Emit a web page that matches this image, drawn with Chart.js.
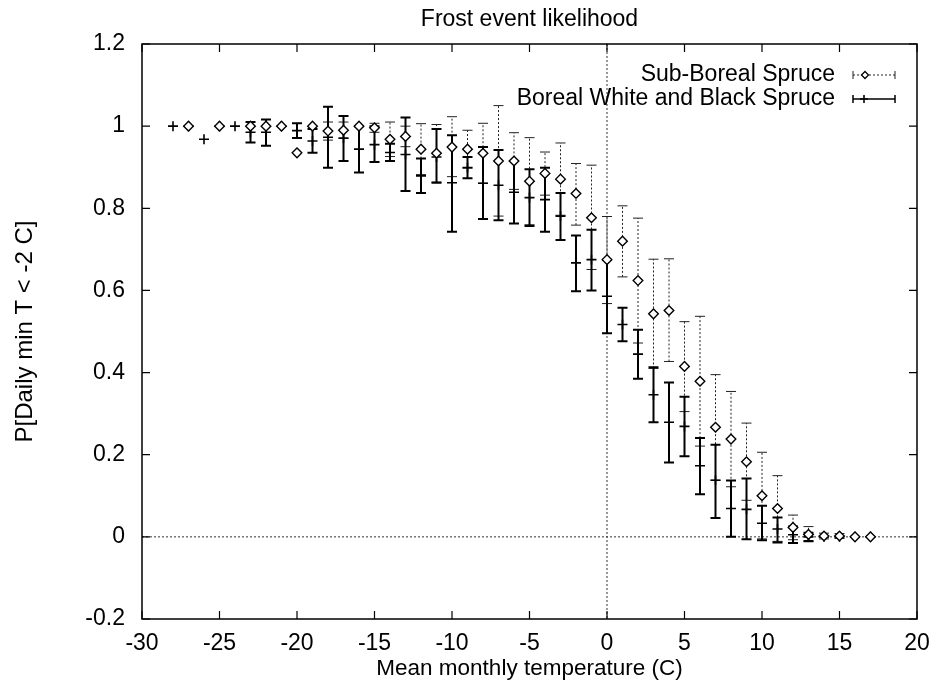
<!DOCTYPE html>
<html>
<head>
<meta charset="utf-8">
<script src="https://cdn.jsdelivr.net/npm/chart.js@4.4.0/dist/chart.umd.min.js"></script>
<style>
  html, body { margin: 0; padding: 0; background: #fff; }
</style>
</head>
<body>
<canvas id="chart" width="933" height="681"></canvas>
<script>
// Sub-Boreal Spruce: mean monthly temp (C), P and error bar ends
const sbTemp = [-27, -25, -23, -22, -21, -20, -19, -18, -17, -16, -15, -14, -13, -12, -11, -10, -9, -8, -7, -6,
  -5, -4, -3, -2, -1, 0, 1, 2, 3, 4, 5, 6, 7, 8, 9, 10, 11, 12, 13, 14, 15, 16, 17];
const sbMean = [1, 1, 1, 1, 1, 0.935, 1.0, 0.988, 0.99, 1.0, 0.996, 0.968, 0.975, 0.944, 0.934, 0.949, 0.944, 0.934, 0.915, 0.915,
  0.866, 0.885, 0.871, 0.836, 0.777, 0.675, 0.72, 0.624, 0.543, 0.551, 0.415, 0.379, 0.267, 0.238, 0.183, 0.1, 0.069, 0.023, 0.006, 0.002, 0.002, 0, 0];
const sbLow = [1, 1, 1, 1, 1, 0.935, 1.0, 0.966, 0.97, 1.0, 0.985, 0.926, 0.95, 0.882, 0.864, 0.877, 0.898, 0.861, 0.781, 0.846,
  0.76, 0.832, 0.783, 0.759, 0.651, 0.568, 0.633, 0.472, 0.41, 0.427, 0.305, 0.221, 0.138, 0.122, 0.089, -0.005, -0.011, -0.007, -0.012, -0.005, -0.004, 0, 0];
const sbHigh = [1, 1, 1, 1, 1, 0.935, 1.0, 1.01, 1.01, 1.0, 1.007, 1.01, 1.0, 1.006, 1.004, 1.023, 0.99, 1.007, 1.05, 0.984,
  0.972, 0.937, 0.959, 0.909, 0.905, 0.78, 0.806, 0.776, 0.676, 0.677, 0.524, 0.537, 0.395, 0.354, 0.277, 0.206, 0.149, 0.053, 0.025, 0.009, 0.008, 0, 0];

// Boreal White and Black Spruce
const bwTemp = [-28, -27, -26, -25, -24, -23, -22, -21, -20, -19, -18, -17, -16, -15, -14, -13, -12, -11, -10, -9,
  -8, -7, -6, -5, -4, -3, -2, -1, 0, 1, 2, 3, 4, 5, 6, 7, 8, 9, 10, 11, 12, 13, 14, 15, 16, 17];
const bwMean = [1, 1, 0.968, 1, 1, 0.985, 0.985, 1, 0.989, 0.964, 0.973, 0.971, 0.944, 0.955, 0.936, 0.931, 0.879, 0.925, 0.862, 0.899,
  0.861, 0.856, 0.839, 0.826, 0.821, 0.781, 0.667, 0.675, 0.586, 0.517, 0.445, 0.346, 0.279, 0.269, 0.173, 0.138, 0.069, 0.067, 0.033, 0.019,
  0.005, 0, 0, 0, 0, 0];
const bwLow = [1, 1, 0.968, 1, 1, 0.96, 0.952, 1, 0.971, 0.935, 0.899, 0.915, 0.887, 0.913, 0.915, 0.842, 0.837, 0.862, 0.743, 0.873,
  0.774, 0.771, 0.763, 0.757, 0.743, 0.723, 0.598, 0.6, 0.496, 0.476, 0.385, 0.279, 0.181, 0.196, 0.104, 0.046, 0.0, -0.006, -0.008, -0.014,
  -0.015, -0.01, 0, 0, 0, 0];
const bwHigh = [1, 1, 0.968, 1, 1, 1.01, 1.016, 1, 1.007, 0.993, 1.047, 1.025, 1.0, 1.0, 0.957, 1.021, 0.921, 0.993, 0.978, 0.925,
  0.949, 0.942, 0.915, 0.895, 0.899, 0.837, 0.734, 0.748, 0.675, 0.558, 0.504, 0.413, 0.376, 0.341, 0.241, 0.224, 0.137, 0.142, 0.076, 0.047,
  0.025, 0.01, 0, 0, 0, 0];

const xTicks = [-30, -25, -20, -15, -10, -5, 0, 5, 10, 15, 20];
const yTicks = [-0.2, 0, 0.2, 0.4, 0.6, 0.8, 1, 1.2];

const FONT = "'Liberation Sans', Arial, Helvetica, sans-serif";
Chart.defaults.font.family = FONT;
Chart.defaults.color = '#000';

const SB_STYLE = { color: '#222', width: 1, dash: [2, 2] };
const BW_STYLE = { color: '#000', width: 2, dash: [] };

function drawBars(ctx, xs, ys, temps, lows, highs, st) {
  ctx.strokeStyle = st.color;
  ctx.lineWidth = st.width;
  for (let i = 0; i < temps.length; i++) {
    if (highs[i] - lows[i] < 0.002) continue;
    const px = xs.getPixelForValue(temps[i]);
    const pl = ys.getPixelForValue(lows[i]);
    const ph = ys.getPixelForValue(highs[i]);
    ctx.setLineDash(st.dash);
    ctx.beginPath();
    ctx.moveTo(px, pl); ctx.lineTo(px, ph);
    ctx.stroke();
    ctx.setLineDash([]);
    ctx.beginPath();
    ctx.moveTo(px - 5, pl); ctx.lineTo(px + 5, pl);
    ctx.moveTo(px - 5, ph); ctx.lineTo(px + 5, ph);
    ctx.stroke();
  }
}

function diamond(ctx, x, y, r) {
  ctx.beginPath();
  ctx.moveTo(x, y - r); ctx.lineTo(x + r, y); ctx.lineTo(x, y + r); ctx.lineTo(x - r, y);
  ctx.closePath();
  ctx.fillStyle = '#fff';
  ctx.fill();
  ctx.lineWidth = 1.3;
  ctx.strokeStyle = '#000';
  ctx.stroke();
}

function plus(ctx, x, y, r) {
  ctx.beginPath();
  ctx.moveTo(x - r, y); ctx.lineTo(x + r, y);
  ctx.moveTo(x, y - r); ctx.lineTo(x, y + r);
  ctx.lineWidth = 1.6;
  ctx.strokeStyle = '#000';
  ctx.stroke();
}

// zero lines + error bars under the points
const errorBars = {
  id: 'errorBars',
  beforeDatasetsDraw(chart) {
    const { ctx, chartArea, scales: { x, y } } = chart;
    ctx.save();
    ctx.strokeStyle = '#333';
    ctx.lineWidth = 1;
    ctx.setLineDash([2, 2]);
    const y0 = y.getPixelForValue(0), x0 = x.getPixelForValue(0);
    ctx.beginPath();
    ctx.moveTo(chartArea.left, y0); ctx.lineTo(chartArea.right, y0);
    ctx.moveTo(x0, chartArea.top); ctx.lineTo(x0, chartArea.bottom);
    ctx.stroke();
    drawBars(ctx, x, y, sbTemp, sbLow, sbHigh, SB_STYLE);
    drawBars(ctx, x, y, bwTemp, bwLow, bwHigh, BW_STYLE);
    ctx.restore();
  }
};

// gnuplot style frame with inward ticks on all sides, title over the plot area
const frame = {
  id: 'frame',
  afterDatasetsDraw(chart) {
    const { ctx, chartArea: a, scales: { x, y } } = chart;
    ctx.save();
    ctx.strokeStyle = '#000';
    ctx.lineWidth = 1.5;
    ctx.strokeRect(a.left, a.top, a.right - a.left, a.bottom - a.top);
    ctx.lineWidth = 1.2;
    ctx.beginPath();
    x.ticks.forEach(t => {
      const px = x.getPixelForValue(t.value);
      ctx.moveTo(px, a.bottom); ctx.lineTo(px, a.bottom - 8);
      ctx.moveTo(px, a.top); ctx.lineTo(px, a.top + 8);
    });
    y.ticks.forEach(t => {
      const py = y.getPixelForValue(t.value);
      ctx.moveTo(a.left, py); ctx.lineTo(a.left + 8, py);
      ctx.moveTo(a.right, py); ctx.lineTo(a.right - 8, py);
    });
    ctx.stroke();
    ctx.font = '23px ' + FONT;
    ctx.fillStyle = '#000';
    ctx.textAlign = 'center';
    ctx.textBaseline = 'middle';
    ctx.fillText('Frost event likelihood', (a.left + a.right) / 2, 20);
    ctx.restore();
  }
};

// key in the top right corner: text, then a sample error bar
const gnuKey = {
  id: 'gnuKey',
  afterDraw(chart) {
    const { ctx } = chart;
    const rows = [
      { label: chart.data.datasets[0].label, st: SB_STYLE, pt: 'diamond', y: 75 },
      { label: chart.data.datasets[1].label, st: BW_STYLE, pt: 'plus', y: 99 }
    ];
    ctx.save();
    ctx.font = '23px ' + FONT;
    ctx.textAlign = 'right';
    ctx.textBaseline = 'middle';
    rows.forEach(r => {
      ctx.fillStyle = '#000';
      ctx.fillText(r.label, 835, r.y);
      ctx.strokeStyle = r.st.color;
      ctx.lineWidth = r.st.width === 2 ? 1.5 : 1;
      ctx.setLineDash(r.st.dash);
      ctx.beginPath();
      ctx.moveTo(853, r.y); ctx.lineTo(895, r.y);
      ctx.stroke();
      ctx.setLineDash([]);
      ctx.beginPath();
      ctx.moveTo(853, r.y - 4); ctx.lineTo(853, r.y + 4);
      ctx.moveTo(895, r.y - 4); ctx.lineTo(895, r.y + 4);
      ctx.stroke();
      if (r.pt === 'diamond') diamond(ctx, 865, r.y, 3.5);
      else plus(ctx, 864, r.y, 4);
    });
    ctx.restore();
  }
};

// diamonds are drawn by the library's rectRot style, plus marks by 'cross'
new Chart(document.getElementById('chart').getContext('2d'), {
  type: 'scatter',
  data: {
    datasets: [
      {
        label: 'Sub-Boreal Spruce',
        data: sbTemp.map((t, i) => ({ x: t, y: sbMean[i] })),
        pointStyle: 'rectRot',
        pointRadius: 4.8,
        backgroundColor: '#fff',
        borderColor: '#000',
        borderWidth: 1.4
      },
      {
        label: 'Boreal White and Black Spruce',
        data: bwTemp.map((t, i) => ({ x: t, y: bwMean[i] })),
        pointStyle: 'cross',
        pointRadius: 5,
        backgroundColor: '#000',
        borderColor: '#000',
        borderWidth: 1.6
      }
    ]
  },
  options: {
    responsive: false,
    animation: false,
    devicePixelRatio: 1,
    layout: { padding: { top: 44, right: 16, left: 0, bottom: 0 } },
    plugins: {
      legend: { display: false },
      tooltip: { enabled: false },
      title: { display: false }
    },
    scales: {
      x: {
        type: 'linear',
        min: -30,
        max: 20,
        grid: { display: false },
        border: { display: false },
        afterBuildTicks: s => { s.ticks = xTicks.map(v => ({ value: v })); },
        afterFit: s => { s.height = 62; },
        ticks: { padding: 3, font: { size: 23 }, color: '#000', maxRotation: 0, autoSkip: false },
        title: {
          display: true,
          text: 'Mean monthly temperature (C)',
          font: { size: 22.5, lineHeight: 1.0 },
          color: '#000',
          padding: { top: 1, bottom: 1 }
        }
      },
      y: {
        type: 'linear',
        min: -0.2,
        max: 1.2,
        grid: { display: false },
        border: { display: false },
        afterBuildTicks: s => { s.ticks = yTicks.map(v => ({ value: v })); },
        afterFit: s => { s.width = 142; },
        ticks: {
          padding: 9,
          font: { size: 23 },
          color: '#000',
          autoSkip: false,
          callback: v => String(Math.round(v * 10) / 10)
        },
        title: {
          display: true,
          text: 'P[Daily min T < -2 C]',
          font: { size: 24 },
          color: '#000',
          padding: { top: 11, bottom: 11 }
        }
      }
    }
  },
  plugins: [errorBars, frame, gnuKey]
});
</script>
</body>
</html>
